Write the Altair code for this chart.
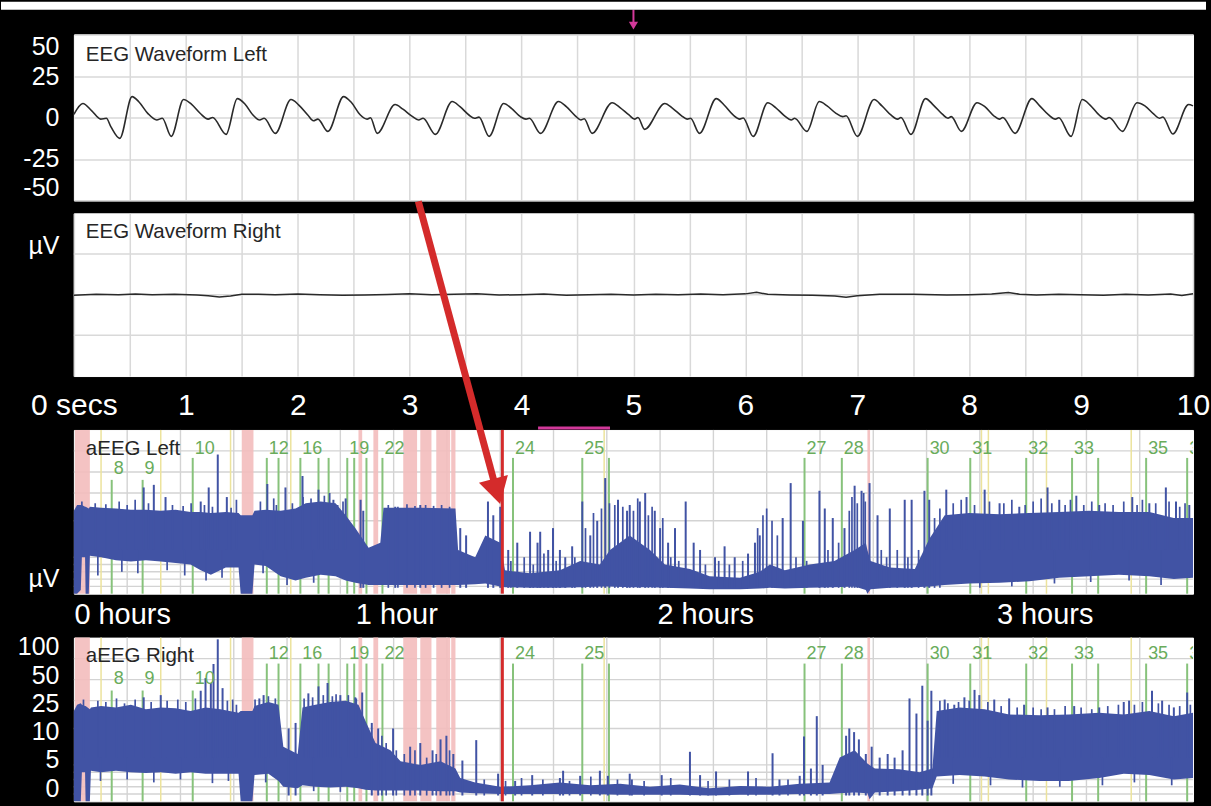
import json
import math

import altair as alt
import pandas as pd

# ------------------------------------------------------------------ data
# raw EEG, left channel: time (s) and amplitude (µV)
eeg_left_t = [
    0.00, 0.08, 0.16, 0.24, 0.29, 0.33, 0.41,
    0.52, 0.58, 0.66, 0.74, 0.79, 0.87,
    0.98, 1.05, 1.13, 1.20, 1.24, 1.36,
    1.46, 1.53, 1.60, 1.66, 1.70, 1.80,
    1.94, 2.01, 2.09, 2.14, 2.18, 2.27,
    2.41, 2.48, 2.56, 2.62, 2.65, 2.71,
    2.87, 2.94, 3.02, 3.08, 3.12, 3.23,
    3.38, 3.45, 3.53, 3.58, 3.62, 3.71,
    3.84, 3.91, 3.99, 4.04, 4.07, 4.17,
    4.33, 4.40, 4.48, 4.53, 4.56, 4.63,
    4.81, 4.88, 4.96, 5.01, 5.04, 5.10,
    5.28, 5.35, 5.43, 5.48, 5.51, 5.59,
    5.74, 5.81, 5.89, 5.95, 5.98, 6.07,
    6.20, 6.27, 6.35, 6.41, 6.44, 6.55,
    6.66, 6.73, 6.81, 6.87, 6.90, 7.00,
    7.15, 7.22, 7.30, 7.36, 7.39, 7.48,
    7.61, 7.68, 7.76, 7.81, 7.84, 7.93,
    8.07, 8.14, 8.22, 8.27, 8.30, 8.41,
    8.56, 8.63, 8.71, 8.77, 8.80, 8.91,
    9.01, 9.08, 9.16, 9.22, 9.25, 9.37,
    9.50, 9.57, 9.65, 9.70, 9.73, 9.82,
    9.96, 10.0,
]
eeg_left_v = [
    1.8, 8.4, 4.0, -1.0, -0.5, -5.5, -12.6,
    12.6, 9.5, 2.5, -1.5, -0.5, -11.4,
    10.8, 8.0, 2.4, -1.0, 0.0, -10.2,
    11.4, 8.0, 1.5, -1.5, -0.5, -9.6,
    10.8, 7.5, 1.5, -2.0, -1.0, -8.4,
    12.6, 9.0, 1.5, -1.0, -0.2, -9.6,
    7.8, 5.0, 0.8, -1.5, -0.5, -10.2,
    9.6, 6.5, 1.5, -0.5, 0.2, -11.4,
    8.4, 5.5, 0.5, -1.0, -0.5, -9.6,
    9.6, 6.5, 1.0, -1.5, -0.8, -9.6,
    8.9, 6.0, 1.5, -1.0, 0.0, -7.2,
    8.4, 5.5, 1.0, -1.0, -0.5, -9.6,
    11.4, 7.5, 1.5, -1.0, -0.3, -11.4,
    8.9, 6.0, 1.0, -1.5, -0.5, -8.4,
    9.6, 7.0, 2.5, 0.5, 1.0, -11.4,
    10.8, 7.0, 1.5, -1.0, 0.0, -10.2,
    11.4, 7.5, 2.0, -0.5, 0.5, -8.4,
    8.9, 6.5, 1.0, -1.0, 0.0, -9.6,
    11.4, 7.0, 1.5, -1.0, -0.2, -11.4,
    10.8, 7.5, 1.5, -1.0, 0.0, -8.4,
    8.9, 7.0, 2.0, -0.5, 0.3, -10.0,
    7.8, 7.0,
]

# raw EEG, right channel (almost flat)
eeg_right_t = [
    0.0, 0.2, 0.4, 0.55, 0.7, 0.9, 1.1, 1.2, 1.3, 1.4,
    1.5, 1.65, 1.8, 2.0, 2.2, 2.4, 2.6, 2.8, 3.0, 3.2,
    3.4, 3.6, 3.8, 4.0, 4.2, 4.4, 4.6, 4.8, 5.0, 5.2,
    5.4, 5.6, 5.8, 6.0, 6.1, 6.2, 6.4, 6.6, 6.8, 6.9,
    7.0, 7.2, 7.5, 7.8, 8.0, 8.2, 8.35, 8.45, 8.6, 8.8,
    9.0, 9.2, 9.4, 9.6, 9.8, 9.9, 10.0,
]
eeg_right_v = [
    -0.3, 0.2, 0.0, 0.4, 0.0, 0.3, -0.2, -0.6, -1.4, -0.8,
    0.2, 0.3, -0.1, 0.4, 0.0, -0.3, -0.2, 0.1, 0.5, -0.1,
    0.2, 0.5, -0.2, 0.0, 0.4, -0.3, 0.0, 0.3, -0.2, 0.2,
    -0.1, 0.4, 0.0, 0.5, 1.5, 0.2, -0.2, -0.4, -0.8, -1.5,
    -0.6, 0.3, 0.3, -0.2, 0.0, 0.4, 1.4, 0.3, -0.2, 0.3,
    0.0, -0.3, 0.2, -0.2, 0.4, -0.5, 0.6,
]

sec_grid = [0.5, 1.0, 1.5, 2.0, 2.5, 3.0, 3.5, 4.0, 4.5, 5.0,
            5.5, 6.0, 6.5, 7.0, 7.5, 8.0, 8.5, 9.0, 9.5]
sec_ticks = [0, 0.5, 1, 1.5, 2, 2.5, 3, 3.5, 4, 4.5, 5,
             5.5, 6, 6.5, 7, 7.5, 8, 8.5, 9, 9.5, 10]
eeg_y_ticks = [50, 25, 0, -25, -50]
eeg_y_grid = [25, 0, -25]
pin_sec = [5.0]

# aEEG left: time (min), lower / upper margin (µV)
aeeg_l_t = [
    0.0, 0.6, 1.3, 1.5, 2.1, 2.2, 2.8, 3.0, 5.1, 7.9,
    10.7, 13.5, 16.3, 19.1, 21.9, 23.8, 25.7, 28.5, 30.9, 31.3,
    33.5, 33.9, 36.0, 38.8, 41.6, 43.5, 46.3, 49.1, 51.0, 52.8,
    55.3, 57.5, 58.1, 65.0, 71.6, 72.1, 75.3, 77.2, 80.0, 80.9,
    85.6, 91.2, 95.0, 98.7, 100.6, 104.3, 108.1, 110.9, 115.6, 119.3,
    125.0, 128.7, 130.6, 133.4, 138.1, 142.7, 146.5, 148.6, 148.9, 149.5,
    153.1, 157.8, 160.5, 163.4, 168.0, 173.7, 179.3, 184.9, 190.5, 196.1,
    201.8, 206.4, 210.0,
]
aeeg_l_lo = [
    0, 0, 0.5, 5, 5, 0, 0, 5.2, 5.0, 4.6,
    4.4, 4.6, 4.4, 4.2, 4.0, 3.2, 2.6, 3.6, 3.6, 0,
    0, 4.0, 3.8, 2.4, 1.8, 2.2, 2.6, 2.4, 1.8, 1.5,
    1.2, 1.2, 1.2, 1.2, 1.2, 1.2, 1.3, 1.4, 1.0, 0.9,
    0.8, 0.8, 0.9, 1.0, 1.0, 0.9, 0.9, 0.8, 0.7, 0.6,
    0.6, 0.7, 0.8, 0.7, 0.8, 0.9, 1.0, 0.5, 0, 0.6,
    0.8, 0.9, 1.0, 1.2, 1.4, 1.5, 1.7, 2.2, 2.4, 2.6,
    2.4, 2.0, 2.2,
]
aeeg_l_hi = [
    14, 17, 17, 17, 16, 16, 15, 16, 15.5, 15,
    14.5, 14.5, 14, 14.5, 13.5, 13.5, 13, 13.5, 13, 12,
    12, 14, 14.5, 14, 15, 18, 19, 18, 12, 9,
    6.3, 7, 15.5, 15.5, 15, 6, 5, 8, 7, 3.2,
    2.8, 3.2, 4.5, 4, 6, 8, 6, 4, 3.4, 2.4,
    2.2, 3.0, 4.0, 3.2, 4.0, 4.5, 6, 7, 6, 4.5,
    3.6, 3.4, 7.5, 12, 13, 12.5, 13, 13.5, 14, 13.5,
    13.5, 11, 11,
]
spk_l_t = [
    13.1, 15.0, 17.2, 23.8, 25.3, 27.0, 28.7, 36.3, 39.7, 42.9,
    45.9, 48.7, 51.0, 53.8, 54.3, 60.3, 65.0, 72.5, 73.6, 77.7,
    78.7, 80.0, 81.5, 83.2, 85.6, 87.0, 87.5, 89.0, 89.9, 91.2,
    92.2, 93.5, 95.4, 96.9, 98.2, 99.7, 102.1, 103.8, 104.3, 106.2,
    107.2, 109.0, 110.0, 111.5, 112.8, 114.8, 116.3, 117.5, 120.3, 122.1,
    124.0, 126.5, 127.8, 128.7, 133.0, 134.5, 136.8, 139.9, 140.9, 142.4,
    144.6, 146.5, 147.8, 149.3, 150.8, 153.1, 155.9, 157.2, 159.6, 160.5,
    163.7, 167.5, 170.9, 173.7, 177.4, 182.7, 184.9, 188.1, 192.4, 198.6,
    201.8, 204.9, 206.8, 209.3,
]
spk_l_top = [
    30, 33, 22, 19, 30, 90, 22, 34, 30, 44,
    28, 20, 21, 20, 14, 16, 17, 9, 8, 19,
    12, 16, 6, 7, 8.5, 7, 8.5, 6, 9, 6,
    5, 6.5, 19, 8, 10, 41, 20, 14, 17, 19,
    25, 14, 9, 7, 9, 19, 7, 6, 5, 6.5,
    5, 5.5, 7, 8, 11, 35, 10, 27, 15, 11,
    9, 32, 27, 35, 12, 15, 20, 20, 27, 20,
    28, 22, 28, 18, 16, 30, 20, 23, 17, 22,
    18, 30, 19, 17,
]
# shorter, denser spikes that make the ragged top of the trace
tex_l_t = [
    1.5, 4.0, 6.0, 8.5, 10.0, 11.5, 14.0, 18.5, 20.5, 22.0,
    24.5, 26.0, 29.5, 30.5, 35.0, 37.5, 38.0, 41.0, 43.0, 44.5,
    47.0, 48.0, 49.5, 50.5, 59.0, 60.8, 62.5, 64.0, 66.0, 67.5,
    69.0, 70.5, 82.0, 84.5, 86.2, 88.2, 90.5, 94.0, 96.0, 97.5,
    99.0, 100.5, 101.5, 103.0, 105.0, 105.8, 107.8, 108.5, 110.5, 112.0,
    113.5, 118.5, 121.0, 123.0, 125.5, 128.3, 129.3, 130.0, 131.0, 132.0,
    135.5, 137.5, 141.5, 143.5, 145.5, 146.0, 147.0, 148.2, 148.5, 151.5,
    152.5, 154.5, 156.5, 158.5, 161.5, 162.5, 165.0, 166.5, 169.0, 171.8,
    174.5, 176.0, 178.5, 180.0, 181.5, 183.5, 186.0, 187.0, 189.5, 191.0,
    193.5, 195.0, 197.0, 199.5, 200.5, 203.0, 205.5, 207.5, 208.5,
]
tex_l_top = [
    19, 18, 17.5, 19, 17, 20, 18, 17, 16.5, 18,
    17, 16, 15.5, 20, 19, 21, 17, 18, 22, 21,
    23, 25, 17, 19, 17, 16, 17.5, 16.5, 17, 16.5,
    17, 16, 4.5, 5, 4, 5.5, 4.5, 5, 9, 13,
    15, 18, 17, 16, 14, 21, 12, 16, 11, 5,
    4.5, 4, 4.5, 4, 4.5, 9, 12, 15, 10, 8,
    5, 4.5, 6, 7, 14, 22, 18, 25, 19, 6,
    5, 6, 5, 6, 11, 15, 18, 20, 17, 19,
    18, 20, 17, 19, 21, 18, 17, 20, 17, 19,
    18, 17, 19, 17, 20, 18, 19, 16, 18,
]
# short downward streaks below the lower margin of the trace
dip_l_t = [4.5, 9.0, 12.0, 17.5, 20.8, 24.8, 27.8, 35.5, 40.0, 45.0,
           170.0, 176.0, 184.0, 190.8, 198.0, 204.0]
dip_l_bottom = [2.5, 3.0, 2.8, 3.2, 2.5, 1.8, 2.2, 2.8, 1.2, 1.5,
                0.8, 1.0, 1.4, 1.6, 1.8, 1.2]

# aEEG right
aeeg_r_t = [
    0.0, 0.6, 1.3, 1.5, 2.1, 2.2, 3.0, 3.2, 5.1, 7.9,
    10.7, 13.5, 16.3, 19.1, 21.9, 24.7, 27.5, 30.9, 31.3, 33.5,
    33.9, 36.5, 38.4, 39.3, 42.0, 42.9, 45.3, 48.1, 51.0, 53.4,
    54.7, 56.6, 59.4, 61.3, 65.0, 68.8, 71.6, 72.5, 75.3, 80.0,
    85.6, 91.2, 96.9, 102.5, 108.1, 113.7, 119.3, 125.0, 130.6, 136.2,
    141.8, 143.7, 146.5, 148.9, 149.3, 150.3, 154.9, 158.7, 161.1, 161.9,
    166.2, 170.9, 175.5, 181.2, 186.7, 192.4, 197.0, 201.8, 206.4, 210.0,
]
aeeg_r_lo = [
    0, 0, 0, 4.0, 4.0, 0, 0, 4.2, 4.0, 4.2,
    4.0, 3.9, 4.0, 3.8, 4.0, 3.8, 3.8, 3.8, 0, 0,
    3.6, 3.8, 2.8, 2.0, 1.8, 2.2, 2.0, 1.9, 2.0, 1.8,
    1.6, 1.5, 1.5, 1.5, 1.5, 1.4, 1.4, 1.2, 1.1, 1.0,
    1.0, 1.0, 1.0, 0.9, 0.9, 0.9, 0.8, 0.9, 0.9, 1.0,
    1.0, 1.1, 1.2, 1.1, 0.3, 1.2, 1.4, 1.6, 1.8, 3.4,
    3.6, 3.4, 3.0, 2.8, 2.8, 3.2, 3.8, 3.6, 3.0, 3.2,
]
aeeg_r_hi = [
    18, 22, 23, 22, 21, 21, 19, 20, 21, 20,
    22, 19, 20, 19.5, 18, 20, 19, 17, 18, 18,
    21, 24, 22, 7.5, 6.5, 20, 22, 24, 25, 22,
    13, 8, 7, 5.5, 5.0, 5.5, 4.5, 3.2, 2.6, 2.0,
    2.2, 2.6, 2.2, 2.4, 2.0, 2.3, 1.8, 2.1, 2.0, 2.4,
    2.6, 6, 7, 5.2, 5, 4.5, 4.4, 4.0, 4.5, 18,
    20, 19, 16, 15.5, 16, 17, 16, 18, 15, 17,
]
spk_r_t = [
    13.1, 16.3, 23.8, 24.7, 25.7, 26.2, 27.0, 27.9, 34.8, 35.6,
    40.3, 41.6, 44.0, 45.9, 47.6, 50.0, 52.8, 54.1, 55.9, 57.1,
    59.9, 63.1, 65.0, 67.3, 68.8, 69.9, 71.2, 72.9, 75.5, 79.6,
    82.8, 86.0, 91.2, 91.8, 95.0, 98.7, 100.2, 104.3, 104.7, 110.3,
    115.6, 117.5, 120.5, 126.5, 131.1, 132.4, 136.2, 137.0, 138.3, 139.4,
    140.5, 144.9, 145.5, 146.4, 147.3, 148.6, 149.7, 151.2, 152.7, 154.0,
    155.5, 156.8, 158.1, 159.2, 160.2, 160.9, 163.4, 165.2, 167.1, 169.0,
    169.9, 172.7, 175.5, 178.3, 182.7, 187.7, 192.4, 197.0, 198.0, 202.3,
    204.2, 206.4, 208.9,
]
spk_r_top = [
    28, 30, 35, 53, 45, 85, 190, 38, 27, 30,
    10, 12, 32, 40, 45, 30, 28, 33, 12, 10,
    10, 7.5, 8, 7, 8.5, 9, 6.5, 5.6, 8.4, 3.8,
    2.8, 3.6, 3.2, 4.2, 3.5, 4.2, 3.5, 3.8, 3.0, 3.6,
    6.8, 3.6, 4.1, 4.1, 6.6, 3.0, 3.5, 8.9, 4.5, 15,
    5, 9, 10, 9.5, 8.5, 6.5, 7.5, 6, 6.5, 6,
    7, 27, 16.5, 41, 13, 35, 26, 22, 28, 36,
    30, 26, 27, 22, 20, 21, 20, 24, 25, 35,
    25, 20, 33,
]
tex_r_t = [
    1.8, 4.5, 6.0, 8.0, 9.5, 11.5, 14.5, 17.5, 19.5, 21.0,
    22.8, 28.8, 29.8, 30.5, 34.0, 36.5, 37.8, 43.2, 44.8, 46.8,
    48.5, 49.2, 51.5, 53.0, 57.8, 58.6, 60.5, 62.0, 64.0, 66.2,
    68.0, 70.5, 77.0, 81.0, 84.0, 88.0, 93.0, 97.0, 102.0, 107.0,
    112.0, 119.0, 123.0, 128.0, 134.0, 162.5, 164.0, 166.0, 168.0, 171.5,
    174.0, 177.0, 180.0, 181.5, 184.0, 186.0, 189.0, 191.0, 194.0, 196.0,
    199.0, 200.5, 203.5, 205.5, 207.5, 209.5,
]
tex_r_top = [
    26, 25, 24, 27, 23, 26, 24, 25, 26, 24,
    27, 25, 26, 22, 26, 29, 27, 27, 28, 30,
    29, 31, 30, 27, 9, 8, 7, 6.5, 7, 6,
    6.5, 7, 3.0, 2.8, 3.2, 3.0, 2.8, 3.4, 3.0, 2.8,
    3.2, 2.8, 3.0, 3.2, 3.0, 25, 23, 24, 25, 24,
    21, 20, 20, 19, 19, 21, 20, 19, 21, 22,
    22, 24, 23, 22, 21, 22,
]
dip_r_t = [5.0, 10.0, 15.0, 20.0, 26.0, 29.0, 36.0, 45.0, 50.0,
           165.0, 172.0, 178.0, 185.0, 193.0, 199.0, 206.0]
dip_r_bottom = [2.8, 3.0, 2.6, 3.0, 2.5, 2.8, 2.6, 1.4, 1.3,
                2.4, 2.2, 1.9, 2.0, 2.2, 2.6, 2.2]

# event markers (min) and numbers
event_t = [7.1, 12.9, 22.3, 36.2, 42.5, 51.3, 57.9, 82.4, 95.4, 137.1,
           144.1, 160.2, 168.2, 178.7, 187.3, 201.2, 208.9]
event_label = ["8", "9", "10", "12", "16", "19", "22", "24", "25", "27",
               "28", "30", "31", "32", "33", "35", "36"]
event_row_left = [1, 1, 0, 0, 0, 0, 0, 0, 0, 0, 0, 0, 0, 0, 0, 0, 0]
event_row_right = [1, 1, 1, 0, 0, 0, 0, 0, 0, 0, 0, 0, 0, 0, 0, 0, 0]
extra_green_t = [38.4, 45.9, 47.8, 52.6, 54.9, 100.4, 192.2]
yellow_t = [5.1, 16.3, 29.4, 40.7, 99.5, 170.3, 171.6, 182.5, 198.4]
pink_t0 = [0.2, 31.5, 53.4, 56.2, 61.8, 65.0, 68.0, 70.8, 148.9]
pink_t1 = [3.0, 33.7, 54.1, 57.1, 64.4, 67.1, 70.6, 71.6, 149.4]
marker_t = [80.4]
window_t0 = [87.1]
window_t1 = [100.6]

minute_grid = [10, 20, 30, 40, 50, 60, 70, 80, 90, 100,
               110, 120, 130, 140, 150, 160, 170, 180, 190, 200]
uv_grid = [1, 2, 3, 4, 5, 10, 25, 50, 100]
hour_tick_t = [0, 52.8, 109.4, 173.1]
hour_tick_label = ["0 hours", "1 hour", "2 hours", "3 hours"]
uv_tick_pos = [153, 59, 22.7, 9.6, 5.75, 1.8]
uv_tick_label = ["100", "50", "25", "10", "5", "0"]

# ------------------------------------------------------------------ style
FONT = "Liberation Sans"
W = 1121
H1, H2, HA = 166, 163, 164
BLUE = "#4153a4"
WAVE = "#2a2a2a"
GRID = "#d9d9d9"
AGRID = "#d3d3d3"
GREEN_LINE = "#87c27b"
GREEN_TEXT = "#69ac5b"
PINK = "#f3bdbd"
YELLOW = "#ece39c"
RED = "#d42b2b"
MAGENTA = "#d2399a"
TITLE_COL = "#262626"

AX = dict(domain=False, ticks=False, tickSize=0, title=None,
          labelColor="white", labelFont=FONT, labelOverlap=False)


def one(**kw):
    return pd.DataFrame({k: [v] for k, v in kw.items()})


def title_text(txt, x, y):
    return alt.Chart(one(s=txt)).mark_text(
        align="left", baseline="middle", font=FONT, fontSize=20.5, color=TITLE_COL
    ).encode(x=alt.value(x), y=alt.value(y), text="s:N")


# ------------------------------------------------------------------ EEG panels
sec_scale = alt.Scale(domain=[0, 10], nice=False, zero=False)
uv_scale = alt.Scale(domain=[-50, 50], nice=False, zero=False)

x1 = alt.X("t:Q", scale=sec_scale,
           axis=alt.Axis(values=sec_grid, labels=False, grid=True,
                         gridColor=GRID, gridWidth=1.5, **AX))
y1 = alt.Y("v:Q", scale=uv_scale,
           axis=alt.Axis(values=eeg_y_ticks, labelExpr="'' + datum.value",
                         labelFlush=True, labelFontSize=25,
                         labelPadding=15, grid=True, gridColor=GRID,
                         gridWidth=1.5, **AX))

df_l = pd.DataFrame({"t": eeg_left_t, "v": eeg_left_v})
wave_l = alt.Chart(df_l).mark_line(
    color=WAVE, strokeWidth=1.6, interpolate="monotone").encode(x=x1, y=y1)
pin = pd.DataFrame({"t": pin_sec})
pin_rule = alt.Chart(pin).mark_rule(color=MAGENTA, strokeWidth=2).encode(
    x=x1, y=alt.value(-25), y2=alt.value(-12))
pin_head = alt.Chart(pin).mark_point(
    shape="triangle-down", filled=True, size=85, color=MAGENTA, opacity=1
).encode(x=x1, y=alt.value(-9))
top_strip = alt.Chart(one(k=0)).mark_rect(color="white").encode(
    x=alt.value(-73), x2=alt.value(1134), y=alt.value(-33), y2=alt.value(-25))

p1 = alt.layer(
    wave_l, title_text("EEG Waveform Left", 12, 20), pin_rule, pin_head, top_strip
).properties(width=W, height=H1)

secs_expr = ("datum.value == 0 ? '0 secs' : "
             "(datum.value % 1 == 0 ? '' + datum.value : '')")
x2 = alt.X("t:Q", scale=sec_scale,
           axis=alt.Axis(values=sec_ticks, labelExpr=secs_expr, labelFontSize=30,
                         labelPadding=15, labelFlush=False, grid=True,
                         gridColor=GRID, gridWidth=1.5, **AX))
y2 = alt.Y("v:Q", scale=uv_scale,
           axis=alt.Axis(values=[30.4], labelExpr="'µV'", labelFontSize=25,
                         labelPadding=15, grid=False, **AX))
df_r = pd.DataFrame({"t": eeg_right_t, "v": eeg_right_v})
grid_r = alt.Chart(pd.DataFrame({"v": eeg_y_grid})).mark_rule(
    color=GRID, strokeWidth=1.5).encode(y=y2)
wave_r = alt.Chart(df_r).mark_line(color=WAVE, strokeWidth=1.5).encode(x=x2, y=y2)
p2 = alt.layer(grid_r, wave_r, title_text("EEG Waveform Right", 12, 19)).properties(
    width=W, height=H2)

# ------------------------------------------------------------------ aEEG panels
aeeg_knots = [0, 5, 10, 12, 15, 20, 25, 30, 40, 50, 70, 100, 140, 200]


def aeeg_pixel(v):
    # linear 0-10 µV in the lower part, logarithmic 10-200 µV above
    if v <= 10:
        return HA - 7.3 * v
    return (HA - 73) - 70 * math.log10(v / 10)


AEEG_SCALE = alt.Scale(domain=aeeg_knots, range=[aeeg_pixel(k) for k in aeeg_knots],
                       zero=False, nice=False, clamp=True)
TIME_SCALE = alt.Scale(domain=[0, 210], nice=False, zero=False)


def aeeg_panel(t, lo, hi, st, stop, tt, ttop, dt, dbot, base_expr, rows, name,
               title_y, label_y, line_top, x_axis, y_axis, extra=()):
    def xa(f):
        return alt.X(f, type="quantitative", scale=TIME_SCALE, axis=x_axis)

    def ya(f):
        return alt.Y(f, type="quantitative", scale=AEEG_SCALE, axis=y_axis)

    env = pd.DataFrame({"t": t, "lower": lo, "upper": hi})
    spk = pd.DataFrame({"t": st, "top": stop})
    tex = pd.DataFrame({"t": tt, "top": ttop})
    dip = pd.DataFrame({"t": dt, "bottom": dbot})
    ev = pd.DataFrame({"t": event_t, "label": event_label, "row": rows})

    layers = [
        alt.Chart(pd.DataFrame({"t": minute_grid})).mark_rule(
            color=AGRID, strokeWidth=1.4).encode(x=xa("t")),
        alt.Chart(pd.DataFrame({"uv": uv_grid})).mark_rule(
            color=AGRID, strokeWidth=1.4).encode(y=ya("uv")),
        alt.Chart(pd.DataFrame({"t": pink_t0, "t_end": pink_t1})).mark_rect(
            color=PINK, opacity=0.9).encode(x=xa("t"), x2="t_end:Q"),
        alt.Chart(pd.DataFrame({"t": yellow_t})).mark_rule(
            color=YELLOW, strokeWidth=1.5).encode(x=xa("t")),
        alt.Chart(pd.DataFrame({"t": extra_green_t})).mark_rule(
            color=GREEN_LINE, strokeWidth=2).encode(
            x=xa("t"), y=alt.value(line_top[0]), y2=alt.value(HA)),
    ]
    for r in (0, 1):
        layers.append(
            alt.Chart(ev).transform_filter(f"datum.row == {r}").mark_rule(
                color=GREEN_LINE, strokeWidth=2).encode(
                x=xa("t"), y=alt.value(line_top[r]), y2=alt.value(HA)))
    layers += [
        alt.Chart(env).mark_area(color=BLUE, opacity=1).encode(
            x=xa("t"), y=ya("upper"), y2="lower:Q"),
        alt.Chart(dip).transform_calculate(mid="6").mark_rule(
            color=BLUE, strokeWidth=1.7).encode(x=xa("t"), y=ya("bottom"), y2="mid:Q"),
        alt.Chart(tex).transform_calculate(base=base_expr).mark_rule(
            color=BLUE, strokeWidth=1.7).encode(x=xa("t"), y=ya("top"), y2="base:Q"),
        alt.Chart(spk).transform_calculate(base=base_expr).mark_rule(
            color=BLUE, strokeWidth=2).encode(x=xa("t"), y=ya("top"), y2="base:Q"),
        alt.Chart(pd.DataFrame({"t": marker_t})).mark_rule(
            color=RED, strokeWidth=3).encode(x=xa("t")),
    ]
    for r in (0, 1):
        layers.append(
            alt.Chart(ev).transform_filter(f"datum.row == {r}").mark_text(
                align="left", baseline="middle", dx=2, font=FONT, fontSize=18,
                color=GREEN_TEXT, clip=True).encode(
                x=xa("t"), y=alt.value(label_y[r]), text="label:N"))
    layers.append(title_text(name, 12, title_y))
    for make in extra:
        layers.append(make(xa))
    return alt.layer(*layers).properties(width=W, height=HA)


hours_expr = (f"{json.dumps(hour_tick_label)}"
              f"[indexof({json.dumps(hour_tick_t)}, datum.value)]")
x_axis_left = alt.Axis(values=hour_tick_t, labelExpr=hours_expr, labelAlign="left",
                       labelFontSize=29, labelPadding=7, labelFlush=False,
                       grid=False, **AX)
y_axis_left = alt.Axis(values=[2.05], labelExpr="'µV'", labelFontSize=25,
                       labelPadding=15, grid=False, **AX)
uv_expr = (f"{json.dumps(uv_tick_label)}"
           f"[indexof({json.dumps(uv_tick_pos)}, datum.value)]")
y_axis_right = alt.Axis(values=uv_tick_pos, labelExpr=uv_expr, labelFontSize=25,
                        labelPadding=15, grid=False, **AX)


def window_bar(xa):
    return alt.Chart(pd.DataFrame({"t": window_t0, "t_end": window_t1})).mark_rule(
        color=MAGENTA, strokeWidth=3).encode(x=xa("t"), x2="t_end:Q", y=alt.value(-2))


def arrow_shaft(xa):
    return alt.Chart(one(k=0)).mark_rule(
        color=RED, strokeWidth=7, strokeCap="butt").encode(
        x=alt.value(345), y=alt.value(-229), x2=alt.value(421), y2=alt.value(52))


def arrow_head(xa):
    return alt.Chart(one(k=0)).mark_point(
        shape="triangle-down", filled=True, size=900, angle=345, color=RED,
        opacity=1).encode(x=alt.value(423.6), y=alt.value(61.5))


p3 = aeeg_panel(aeeg_l_t, aeeg_l_lo, aeeg_l_hi, spk_l_t, spk_l_top, tex_l_t, tex_l_top,
                dip_l_t, dip_l_bottom,
                "(datum.t < 52 || datum.t > 163) ? 6 : 0.8", event_row_left,
                "aEEG Left", 19, [19, 39], [28, 50], x_axis_left, y_axis_left,
                extra=(window_bar, arrow_shaft, arrow_head))
p4 = aeeg_panel(aeeg_r_t, aeeg_r_lo, aeeg_r_hi, spk_r_t, spk_r_top, tex_r_t, tex_r_top,
                dip_r_t, dip_r_bottom,
                "(datum.t < 39 || (datum.t > 42.5 && datum.t < 54.5) || datum.t > 161.5) ? 6 : 0.8",
                event_row_right, "aEEG Right", 18, [16, 41], [26, 53], None,
                y_axis_right)


def spacer(h):
    return alt.Chart(one(k=0)).mark_point(opacity=0).encode(
        x=alt.value(0), y=alt.value(0)
    ).properties(width=W, height=h,
                 view=alt.ViewBackground(fill="transparent", stroke="transparent"))


chart = alt.vconcat(
    p1, p2, spacer(28), p3, spacer(18), p4, spacing=13, bounds="flush"
).properties(
    background="black",
    padding={"left": 0, "top": 0, "right": 0, "bottom": 4},
).configure_view(fill="white", stroke="white")

chart.save("out.html", embed_options={"renderer": "svg", "actions": False})
